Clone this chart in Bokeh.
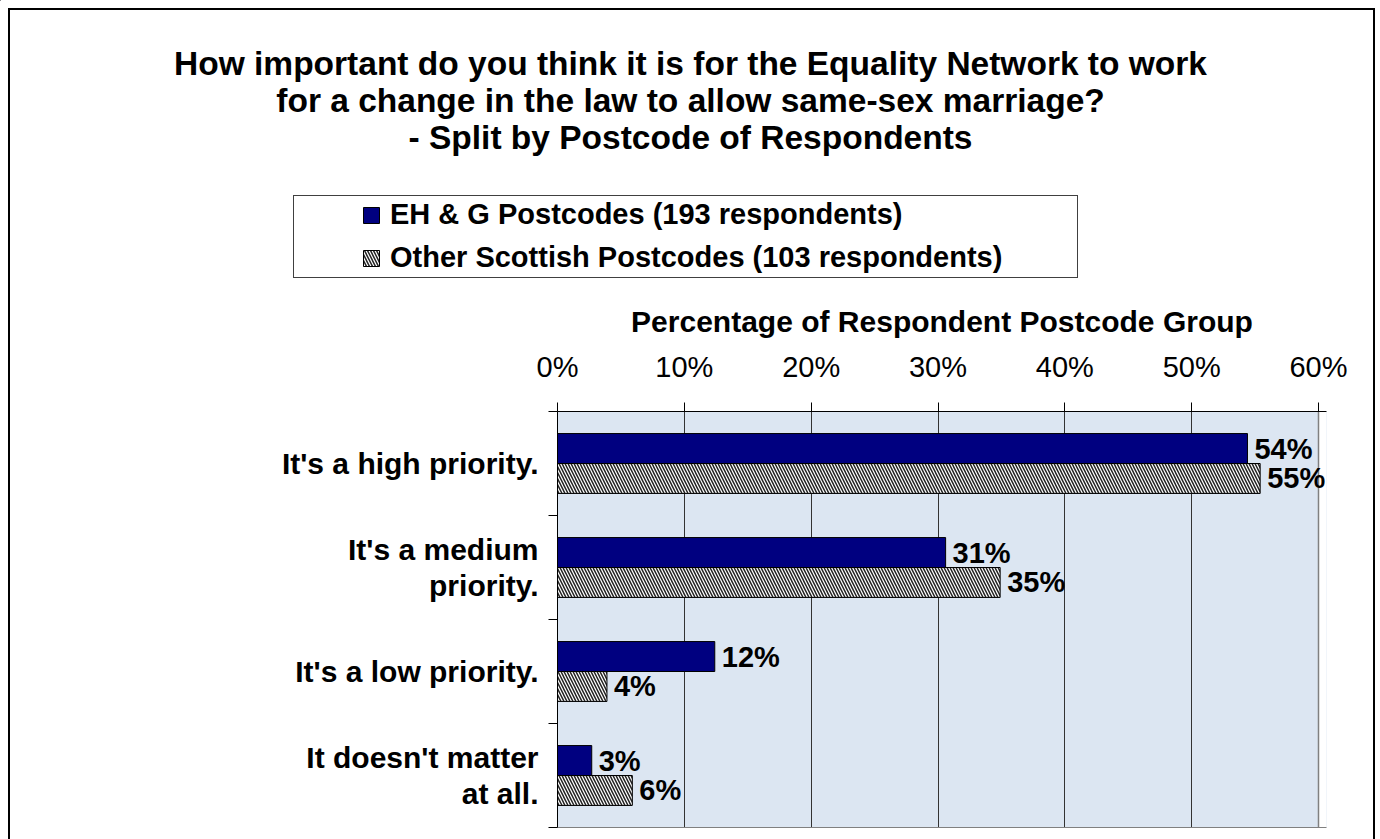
from bokeh.plotting import figure
from bokeh.layouts import column
from bokeh.models import (FactorRange, Range1d, LinearAxis, CategoricalAxis, FixedTicker,
                          CustomJSTickFormatter, PrintfTickFormatter, ColumnDataSource,
                          LabelSet, Legend, LegendItem, Label, BoxAnnotation, Span,
                          InlineStyleSheet, Plot)
from bokeh.core.properties import value
from bokeh.transform import dodge
from bokeh.embed import file_html
from bokeh.resources import INLINE

# ---------------- data ----------------
categories = ["It's a high priority.", "It's a medium\npriority.",
              "It's a low priority.", "It doesn't matter\nat all."]
eh_g = [54.4, 30.6, 12.4, 2.7]
other_scot = [55.4, 34.9, 3.9, 5.9]
series_names = ["EH & G Postcodes (193 respondents)",
                "Other Scottish Postcodes (103 respondents)"]
x_ticks = [0, 10, 20, 30, 40, 50, 60]
title_lines = ["How important do you think it is for the Equality Network to work",
               "for a change in the law to allow same-sex marriage?",
               "- Split by Postcode of Respondents"]
x_axis_title = "Percentage of Respondent Postcode Group"

FONT = "Liberation Sans"
NAVY = "#000080"
BG = "#DCE6F2"
HATCH = dict(hatch_pattern="\\", hatch_color="#222222", hatch_scale=6, hatch_weight=1.5)

W, H = 1376, 839
HEAD_H = 298                          # header (title + legend) height
FRAME_L, FRAME_W = 557, 761           # 0% .. 60% in pixels
FRAME_TOP, FRAME_BOTTOM = 411, 827
SPILL = 8                             # room right of 60% for the data labels
x_end = x_ticks[-1] * (FRAME_W + SPILL) / FRAME_W
BODY_H = H - HEAD_H
HAS_FRAME_ALIGN = "frame_align" in Plot.properties()

# ================= header: title + legend =================
head = figure(width=W, height=HEAD_H, output_backend="svg", toolbar_location=None,
              title=None, x_range=Range1d(0, W), y_range=Range1d(HEAD_H, 0),
              x_axis_location=None, y_axis_location=None, min_border=0)
if HAS_FRAME_ALIGN:
    head.frame_align = False
head.grid.visible = False
head.outline_line_color = None
head.background_fill_color = "white"
head.border_fill_color = "white"

title_baselines = [63, 100, 137]
for line, yb in zip(title_lines, title_baselines):
    head.add_layout(Label(x=690, y=yb, text=line, text_align="center",
                          text_baseline="alphabetic", text_font=FONT,
                          text_font_size="33.5px", text_font_style="bold",
                          text_color="black"))

# legend swatch renderers (one row each, placed outside the header's visible range)
swatch = ColumnDataSource(dict(y=[-10 * HEAD_H], right=[-10 * W]))
g1 = head.hbar(y="y", right="right", height=1, source=swatch,
               fill_color=NAVY, line_color="black")
g2 = head.hbar(y="y", right="right", height=1, source=swatch,
               fill_color="white", line_color="black", **HATCH)
legend = Legend(items=[LegendItem(label=series_names[0], renderers=[g1]),
                       LegendItem(label=series_names[1], renderers=[g2])],
                location=(361, 24), orientation="vertical",
                border_line_color=None, background_fill_alpha=0,
                padding=0, margin=0, spacing=10, glyph_width=20, glyph_height=20,
                label_standoff=9, label_text_font=FONT, label_text_font_size="29px",
                label_text_font_style="bold", label_text_color="black")
head.add_layout(legend, "center")
head.stylesheets = [InlineStyleSheet(css=f"""
:host {{ position: relative; }}
:host::before {{ content: ""; position: absolute; left: 8px; top: 8px;
  width: 1367px; height: {HEAD_H - 8}px; border: 2px solid black; border-bottom: none;
  box-sizing: border-box; pointer-events: none; z-index: 20; }}
:host::after {{ content: ""; position: absolute; left: 293px; top: 195px;
  width: 785px; height: 83px; border: 1px solid #404040;
  box-sizing: border-box; pointer-events: none; z-index: 10; }}
""")]

# ================= body: the bar chart =================
p = figure(width=W, height=BODY_H, output_backend="svg", toolbar_location=None,
           title=None,
           y_range=FactorRange(factors=list(reversed(categories))),
           x_range=Range1d(x_ticks[0], x_end),
           x_axis_location="above", y_axis_location=None,
           min_border_left=FRAME_L, min_border_right=W - FRAME_L - FRAME_W - SPILL,
           min_border_top=FRAME_TOP - HEAD_H, min_border_bottom=H - FRAME_BOTTOM)
if HAS_FRAME_ALIGN:
    p.frame_align = False

p.background_fill_color = BG
p.border_fill_color = "white"
p.outline_line_color = None
p.stylesheets = [InlineStyleSheet(css=f"""
:host {{ position: relative; }}
:host::before {{ content: ""; position: absolute; left: 8px; top: 0px;
  width: 1367px; height: {BODY_H}px; border-left: 2px solid black; border-right: 2px solid black;
  box-sizing: border-box; pointer-events: none; z-index: 20; }}
""")]

# top axis
xa = p.xaxis[0]
xa.ticker = FixedTicker(ticks=x_ticks)
xa.formatter = PrintfTickFormatter(format="%d%%")
xa.major_tick_out = 9
xa.major_tick_in = 0
xa.minor_tick_out = 0
xa.minor_tick_in = 0
xa.axis_line_color = "black"
xa.major_tick_line_color = "black"
xa.major_label_text_font = FONT
xa.major_label_text_font_size = "29px"
xa.major_label_text_color = "black"
xa.major_label_standoff = 20
xa.axis_label = x_axis_title
xa.axis_label_text_font = FONT
xa.axis_label_text_font_size = "30px"
xa.axis_label_text_font_style = "bold"
xa.axis_label_text_color = "black"
xa.axis_label_standoff = 10

# bottom edge of the plot area
bottom_axis = LinearAxis(ticker=FixedTicker(ticks=[]), axis_line_color="#808080",
                         axis_line_width=1, major_tick_out=0, minor_tick_out=0,
                         major_label_standoff=0,
                         formatter=CustomJSTickFormatter(code="return ''"))
p.add_layout(bottom_axis, "below")

p.xgrid.ticker = FixedTicker(ticks=x_ticks)
p.xgrid.grid_line_color = "#333333"
p.xgrid.grid_line_width = 1
p.ygrid.visible = False

# left axes: band-boundary ticks (inner) + category labels (outer)
band_axis = LinearAxis(ticker=FixedTicker(ticks=list(range(len(categories) + 1))),
                       formatter=CustomJSTickFormatter(code="return ''"),
                       major_tick_out=9, major_tick_in=0, minor_tick_out=0, minor_tick_in=0,
                       major_label_standoff=0, axis_line_color="black",
                       major_tick_line_color="black")
p.add_layout(band_axis, "left")
cat_axis = CategoricalAxis(major_tick_out=0, major_tick_in=0, minor_tick_out=0,
                           axis_line_color=None, major_tick_line_color=None,
                           major_label_standoff=10,
                           major_label_text_font=FONT, major_label_text_font_size="30px",
                           major_label_text_font_style="bold", major_label_text_color="black",
                           major_label_text_line_height=1.08)
p.add_layout(cat_axis, "left")

# white area right of the 60% line, and its edge
p.add_layout(BoxAnnotation(left=x_ticks[-1], fill_color="white", fill_alpha=1,
                           line_color=None, level="underlay"))
p.add_layout(Span(location=x_ticks[-1], dimension="height", line_color="#808080",
                  line_width=1.5, level="underlay"))

# bars
src = ColumnDataSource(dict(cat=categories, eh=eh_g, other=other_scot,
                            eh_lbl=[f"{v:.0f}%" for v in eh_g],
                            other_lbl=[f"{v:.0f}%" for v in other_scot]))
BAR_H = 0.288
OFF = BAR_H / 2
r1 = p.hbar(y=dodge("cat", OFF, range=p.y_range), right="eh", left=0, height=BAR_H,
            source=src, fill_color=NAVY, line_color="black", line_width=1)
r2 = p.hbar(y=dodge("cat", -OFF, range=p.y_range), right="other", left=0, height=BAR_H,
            source=src, fill_color="white", line_color="black", line_width=1, **HATCH)

lbl_kw = dict(text_font=value(FONT), text_font_size="29px", text_font_style="bold",
              text_color="black", text_baseline="middle", x_offset=7, source=src)
p.add_layout(LabelSet(x="eh", y=dodge("cat", OFF, range=p.y_range), text="eh_lbl", **lbl_kw))
p.add_layout(LabelSet(x="other", y=dodge("cat", -OFF, range=p.y_range), text="other_lbl", **lbl_kw))

if HAS_FRAME_ALIGN:
    page = column(head, p, spacing=0)
    html = file_html(page, INLINE)
else:
    html = file_html([head, p], INLINE)
open("out.html", "w").write(html)
